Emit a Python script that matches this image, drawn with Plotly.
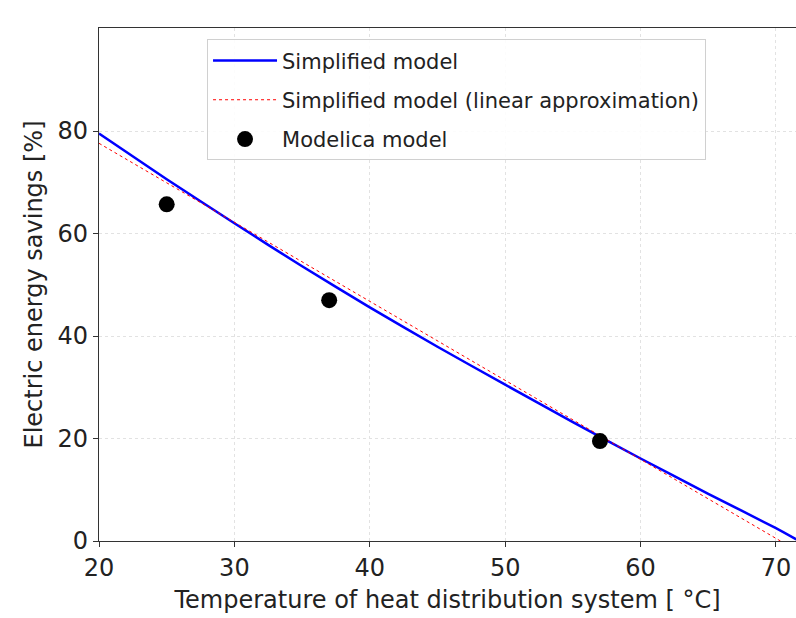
import plotly.graph_objects as go

# Simplified model (curve)
simp_x = [20, 25, 30, 35, 40, 45, 50, 55, 60, 65, 70, 71.5]
simp_y = [79.5, 70.6, 62.0, 53.6, 45.6, 37.9, 30.5, 23.2, 16.1, 9.2, 2.5, 0.3]

# Linear approximation
lin_x = [20, 71.5]
lin_y = [77.6, -1.8]

# Modelica model points
mod_x = [25, 37, 57]
mod_y = [65.7, 47.0, 19.5]

x_ticks = [20, 30, 40, 50, 60, 70]
y_ticks = [0, 20, 40, 60, 80]

font = "DejaVu Sans"
fs = 24
lfs = 21
fig = go.Figure()
fig.add_trace(go.Scatter(x=simp_x, y=simp_y, mode="lines", name="Simplified model",
                         legendgroup="a",
                         line=dict(color="#0000ff", width=2.5, shape="spline", smoothing=0.6)))
fig.add_trace(go.Scatter(x=lin_x, y=lin_y, mode="lines",
                         name="Simplified model (linear approximation)", legendgroup="b",
                         line=dict(color="#ff0000", width=1, dash="dot")))
fig.add_trace(go.Scatter(x=mod_x, y=mod_y, mode="markers", name="Modelica model",
                         legendgroup="c",
                         marker=dict(color="black", size=16)))

fig.update_layout(
    width=796, height=618,
    margin=dict(l=99, r=0, t=28, b=77),
    paper_bgcolor="white", plot_bgcolor="white",
    font=dict(family=font, size=fs, color="#222222"),
    showlegend=True,
    legend=dict(x=0.155, y=0.978, xanchor="left", yanchor="top",
                bgcolor="rgba(255,255,255,0.9)", bordercolor="#d0d0d0", borderwidth=1,
                font=dict(family=font, size=lfs, color="#222222"),
                itemwidth=64, tracegroupgap=9),
    xaxis=dict(range=[20, 71.48], tickvals=x_ticks, showgrid=True,
               gridcolor="#e2e2e2", griddash="dot", gridwidth=1,
               showline=True, linecolor="#333333", linewidth=1.2, mirror=True,
               ticks="outside", ticklen=5, tickcolor="#333333", zeroline=False,
               title=dict(text="Temperature of heat distribution system [ °C]",
                          font=dict(size=fs), standoff=10),
               tickfont=dict(size=fs)),
    yaxis=dict(range=[0, 100.1], tickvals=y_ticks, showgrid=True,
               gridcolor="#e2e2e2", griddash="dot", gridwidth=1,
               showline=True, linecolor="#333333", linewidth=1.2,
               ticks="outside", ticklen=5, tickcolor="#333333", zeroline=False,
               title=dict(text="Electric energy savings [%]", font=dict(size=fs), standoff=8),
               tickfont=dict(size=fs)),
)
fig.write_html("out.html")
